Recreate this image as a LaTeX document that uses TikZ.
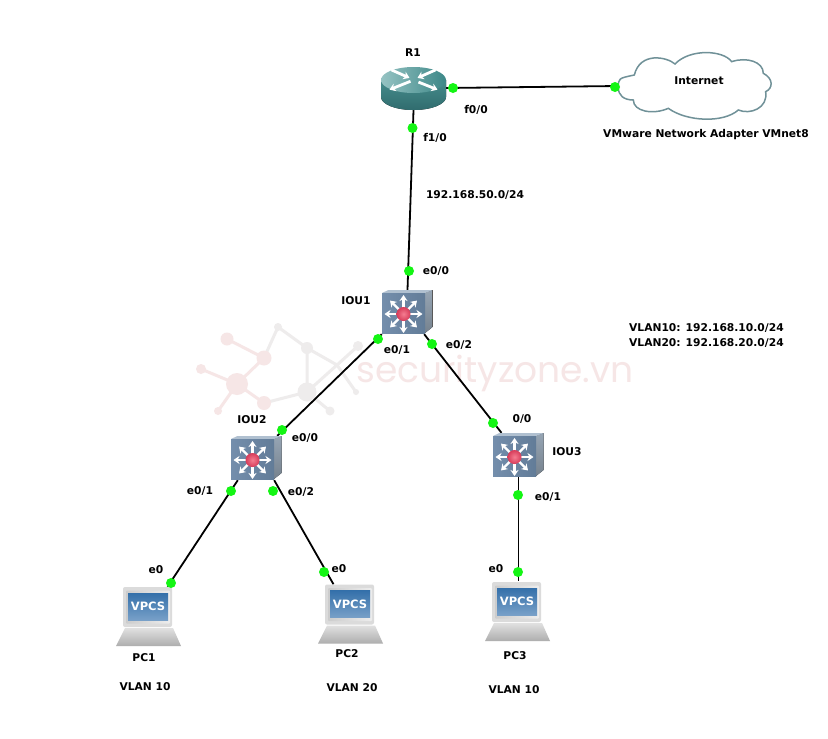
\documentclass[tikz,border=0pt]{standalone}
\usepackage{fontspec}
\setmainfont{DejaVu Sans}
\newfontfamily\wmfont{Poppins}
\usetikzlibrary{arrows.meta,shadings}
\definecolor{portgreen}{RGB}{20,245,20}
\definecolor{wmpink}{RGB}{246,230,230}
\definecolor{wmgray}{RGB}{238,236,236}
\definecolor{swside1}{RGB}{150,165,180}
\definecolor{swside2}{RGB}{118,130,142}
\definecolor{swtop}{RGB}{176,192,208}
\definecolor{swface1}{RGB}{116,142,172}
\definecolor{swface2}{RGB}{98,124,152}
\definecolor{swballA}{RGB}{245,125,145}
\definecolor{swballB}{RGB}{215,60,90}
\definecolor{pcblueA}{RGB}{52,112,170}
\definecolor{pcblueB}{RGB}{120,160,200}
\definecolor{rtA}{RGB}{70,140,140}
\definecolor{rtB}{RGB}{48,108,110}
\definecolor{rtC}{RGB}{150,195,195}
\definecolor{rtD}{RGB}{60,135,135}
\definecolor{cloudline}{RGB}{112,145,152}
\tikzset{
  lab/.style={font=\fontsize{10.7}{12}\selectfont\bfseries, inner sep=0pt, text=black},
  vpcslab/.style={inner sep=0pt, text=white, font=\fontsize{11.5}{13}\selectfont\bfseries},
  port/.style={circle, fill=portgreen, draw=none, minimum size=10pt, inner sep=0pt},
  link/.style={draw=black, line width=1.8pt},
  devbox/.style={draw=none, inner sep=0pt, minimum width=#1},
  whitearrow/.style={draw=white, line width=2.4pt, -{Stealth[length=6pt,width=8pt]}},
  wml/.style={line width=3pt},
}
\newcommand{\swicon}[2]{%
\begin{scope}[shift={(#1,#2)}]
  \fill[top color=swside1, bottom color=swside2] (21.5,-21) -- (29,-24) -- (29,13) -- (21.5,19) -- cycle;
  \fill[swtop] (-21.5,-21) -- (-15,-24) -- (29,-24) -- (21.5,-21) -- cycle;
  \fill[left color=swface1, right color=swface2] (-21.5,-21) rectangle (21.5,19);
  \foreach \a in {0,45,...,315}{ \draw[whitearrow] (0,0) -- ++(\a:19); }
  \shade[inner color=swballA, outer color=swballB] (0,0) circle (7);
\end{scope}}
\newcommand{\pcicon}[2]{%
\begin{scope}[shift={(#1,#2)}]
  \shade[top color=white!88!black, bottom color=white!68!black] (-23,21.5) -- (25,21.5) -- (33,39.5) -- (-32,39.5) -- cycle;
  \fill[rounded corners=2pt, white!86!black] (-25,-19.5) rectangle (24,20.5);
  \shade[left color=white!80!black, right color=white!93!black, rounded corners=1pt] (-22,-16) rectangle (22,17);
  \shade[top color=pcblueA, bottom color=pcblueB] (-20,-13.5) rectangle (20,13.5);
\end{scope}}
\begin{document}
\begin{tikzpicture}[x=1pt,y=-1pt]
\useasboundingbox[fill=white] (0,0) rectangle (828,739);
% watermark
\begin{scope}
  \draw[wml,wmpink] (227,339) -- (264,358) -- (237,384) -- (201,369);
  \draw[wml,wmpink] (237,384) -- (218,411);
  \draw[wml,wmpink] (237,384) -- (264,403);
  \draw[wml,wmgray] (264,358) -- (278,327) -- (307,348) -- (307,392) -- (330,411);
  \draw[wml,wmgray] (264,403) -- (307,392) -- (337,365) -- (358,346);
  \draw[wml,wmgray] (307,348) -- (337,365) -- (356,392);
  \fill[wmpink] (227,339) circle (6.5) (264,358) circle (7.5) (201,369) circle (5) (237,384) circle (11) (264,403) circle (7) (218,411) circle (4);
  \fill[wmgray] (278,327) circle (4) (307,348) circle (6) (358,346) circle (5) (307,392) circle (9.5) (330,411) circle (4.5) (356,392) circle (3);
\end{scope}
\node[inner sep=0pt, text=wmpink, font=\wmfont\fontsize{36}{38}\selectfont] (wm) at (495,373) {securityzone.vn};

% device placeholders
\node[devbox=65pt, minimum height=44pt] (r1) at (413.5,88) {};
\node[devbox=153pt, minimum height=66pt] (internet) at (694.5,86) {};
\node[devbox=51pt, minimum height=44pt] (iou1) at (407.5,312) {};
\node[devbox=51pt, minimum height=44pt] (iou2) at (256.5,458) {};
\node[devbox=51pt, minimum height=44pt] (iou3) at (518.5,455) {};
\node[devbox=65pt, minimum height=59pt] (pc1) at (148.5,616.5) {};
\node[devbox=65pt, minimum height=59pt] (pc2) at (350.5,614) {};
\node[devbox=65pt, minimum height=59pt] (pc3) at (518.5,611) {};

% connectors
\draw[link] (r1.east) -- (internet.west);
\draw[link] (r1.south) -- (iou1.north);
\draw[link] (iou1.south west) -- ([xshift=-5pt]iou2.north east);
\draw[link] ([xshift=-9pt]iou1.south east) -- ([xshift=-17pt]iou3.north);
\draw[link] ([xshift=7pt]iou2.south west) -- ([xshift=19pt]pc1.north);
\draw[link] ([xshift=-8pt]iou2.south east) -- ([xshift=-17pt]pc2.north);
\draw[link] (iou3.south) -- (pc3.north);

% router
\begin{scope}[shift={(413.5,80)}]
  \fill[top color=rtA, bottom color=rtB] (-32.5,0) -- (-32.5,17) arc[start angle=180,end angle=0,x radius=32.5,y radius=13] -- (32.5,0) -- cycle;
  \shade[left color=rtC, right color=rtD] (0,0) ellipse[x radius=32.5,y radius=13];
  \begin{scope}[yscale=0.42]
    \draw[whitearrow,line width=2.8pt] (5,5) -- (24,23);
    \draw[whitearrow,line width=2.8pt] (-3,3) -- (-24,23);
    \draw[whitearrow,line width=2.8pt] (22,-24) -- (4,-5);
    \draw[whitearrow,line width=2.8pt] (-22,-24) -- (-4,-5);
  \end{scope}
\end{scope}

% cloud
\begin{scope}[shift={(600,40)}, x=0.3333pt, y=-0.3333pt]
  \draw[fill=white, draw=cloudline, line width=1.5pt]
    (55,143) .. controls (55,115) .. (103,105)
    .. controls (120,35) and (200,50) .. (225,72)
    .. controls (270,25) and (370,30) .. (395,65)
    .. controls (440,50) and (490,65) .. (490,100)
    .. controls (520,115) and (520,145) .. (497,155)
    .. controls (505,205) and (450,225) .. (415,210)
    .. controls (370,250) and (260,245) .. (205,205)
    .. controls (160,225) and (100,215) .. (100,180)
    .. controls (70,180) and (55,165) .. (55,143) -- cycle;
\end{scope}

\swicon{403.5}{314}
\swicon{252.5}{460}
\swicon{514.5}{457}
\pcicon{148}{606.5}
\pcicon{350}{604}
\pcicon{517}{601.5}
\node[vpcslab] (vp1) at (148,606.5) {VPCS};
\node[vpcslab] (vp2) at (350,604) {VPCS};
\node[vpcslab] (vp3) at (517,601.5) {VPCS};

% ports
\node[port] (p1) at (453,88) {};
\node[port] (p2) at (615,87) {};
\node[port] (p3) at (412.5,128) {};
\node[port] (p4) at (409,271) {};
\node[port] (p5) at (378,339) {};
\node[port] (p6) at (432,344) {};
\node[port] (p7) at (282,430) {};
\node[port] (p8) at (493,423) {};
\node[port] (p9) at (231,491) {};
\node[port] (p10) at (273,491) {};
\node[port] (p11) at (171,583) {};
\node[port] (p12) at (324,572) {};
\node[port] (p13) at (518,495) {};
\node[port] (p14) at (518,572) {};

% labels
\node[lab] (l1) at (413,53) {R1};
\node[lab] (l2) at (476,110) {f0/0};
\node[lab] (l3) at (435,138) {f1/0};
\node[lab] (l4) at (475,195) {192.168.50.0/24};
\node[lab] (l5) at (436,271) {e0/0};
\node[lab] (l6) at (356,301) {IOU1};
\node[lab] (l7) at (397,350) {e0/1};
\node[lab] (l8) at (459,345) {e0/2};
\node[lab] (l9) at (305,438) {e0/0};
\node[lab] (l10) at (252,420) {IOU2};
\node[lab] (l11) at (200,491) {e0/1};
\node[lab] (l12) at (301,492) {e0/2};
\node[lab] (l13) at (522,419) {0/0};
\node[lab] (l14) at (567,452) {IOU3};
\node[lab] (l15) at (548,497) {e0/1};
\node[lab] (l16) at (156,570) {e0};
\node[lab] (l17) at (339,569) {e0};
\node[lab] (l18) at (496,569) {e0};
\node[lab] (l19) at (144,658) {PC1};
\node[lab] (l20) at (347,654) {PC2};
\node[lab] (l21) at (515,656) {PC3};
\node[lab] (l22) at (145,687) {VLAN 10};
\node[lab] (l23) at (352,688) {VLAN 20};
\node[lab] (l24) at (514,690) {VLAN 10};
\node[lab] (l25) at (699,81) {Internet};
\node[lab] (l26) at (706,135) {VMware Network Adapter VMnet8};
\node[lab, anchor=west] (l27) at (629,328) {VLAN10: 192.168.10.0/24};
\node[lab, anchor=west] (l28) at (629,343) {VLAN20: 192.168.20.0/24};
\end{tikzpicture}
\end{document}
